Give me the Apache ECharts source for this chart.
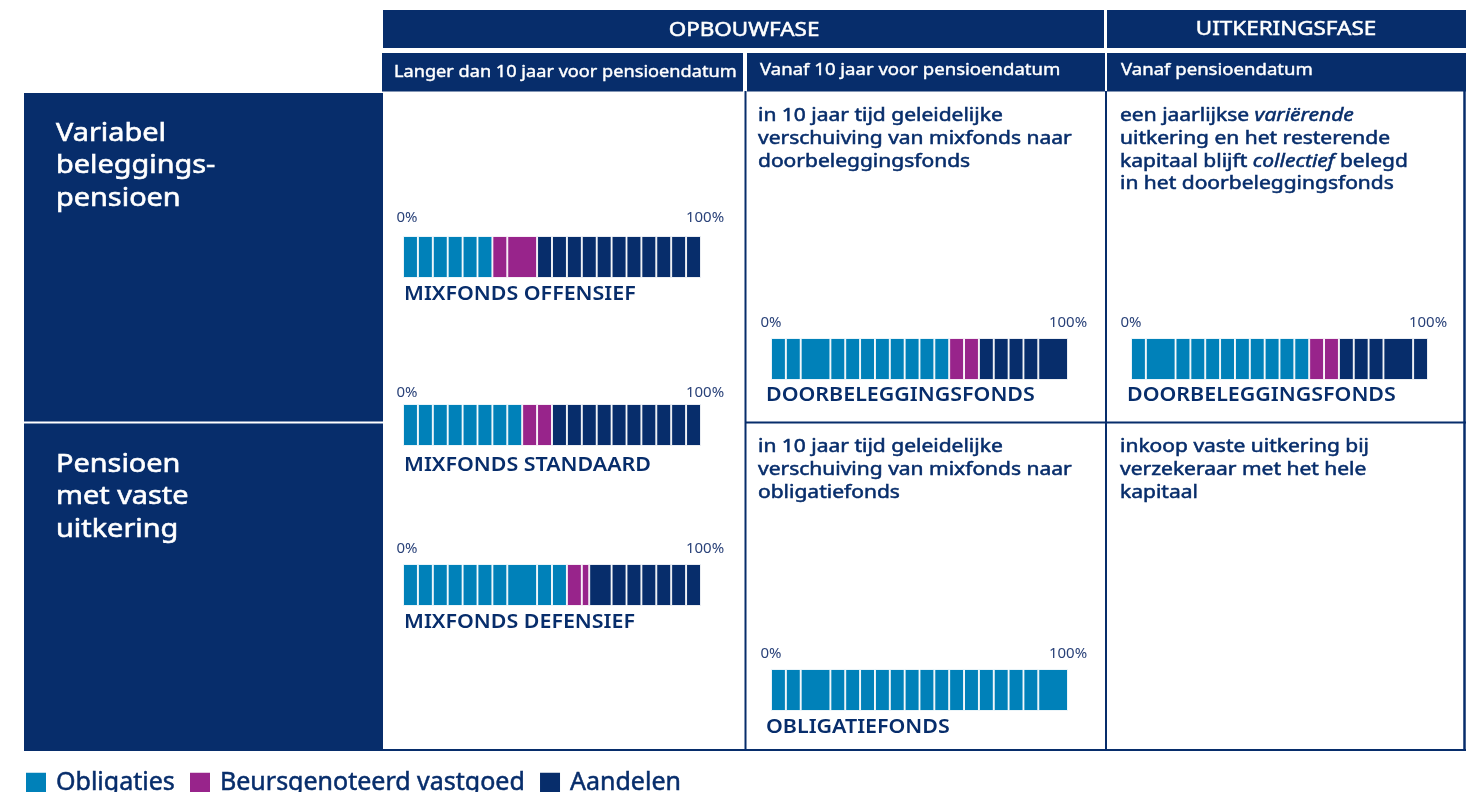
<!DOCTYPE html>
<html>
<head>
<meta charset="utf-8">
<script src="https://cdn.jsdelivr.net/npm/echarts@6/dist/echarts.min.js"></script>
<style>html,body{margin:0;padding:0;background:#fff}#c{width:1478px;height:792px}</style>
</head>
<body>
<div id="c"></div>
<script>
// ---- data ----
const categories = ['Obligaties', 'Beursgenoteerd vastgoed', 'Aandelen'];
const categoryColors = ['#0081b9', '#98248b', '#072d6b'];
const fundNames = ['MIXFONDS OFFENSIEF', 'MIXFONDS STANDAARD', 'MIXFONDS DEFENSIEF', 'DOORBELEGGINGSFONDS', 'DOORBELEGGINGSFONDS', 'OBLIGATIEFONDS'];
const tickLabels = ['0%', '100%'];
// block widths (%) per fund, per asset class (totals: obligaties/vastgoed/aandelen)
const segObligaties = [
  [5,5,5,5,5,5],                                   // 30
  [5,5,5,5,5,5,5,5],                               // 40
  [5,5,5,5,5,5,5,10,5,5],                          // 55
  [5,5,10,5,5,5,5,5,5,5,5],                        // 60
  [5,10,5,5,5,5,5,5,5,5,5],                        // 60
  [5,5,10,5,5,5,5,5,5,5,5,5,5,5,5,5,5,10]          // 100
];
const segVastgoed = [
  [5,10], [5,5], [5,2.5], [5,5], [5,5], []
];
const segAandelen = [
  [5,5,5,5,5,5,5,5,5,5,5],                         // 55
  [5,5,5,5,5,5,5,5,5,5],                           // 50
  [7.5,5,5,5,5,5,5],                               // 37.5
  [5,5,5,5,10],                                    // 30
  [5,5,5,10,5],                                    // 30
  []
];
const headerTop = ['OPBOUWFASE', 'UITKERINGSFASE'];
const headerSub = ['Langer dan 10 jaar voor pensioendatum', 'Vanaf 10 jaar voor pensioendatum', 'Vanaf pensioendatum'];
const rowLabels = ['Variabel\nbeleggings-\npensioen', 'Pensioen\nmet vaste\nuitkering'];
const cellTexts = [
  'in 10 jaar tijd geleidelijke\nverschuiving van mixfonds naar\ndoorbeleggingsfonds',
  'een jaarlijkse {i|variërende}\nuitkering en het resterende\nkapitaal blijft {i|collectief} belegd\nin het doorbeleggingsfonds',
  'in 10 jaar tijd geleidelijke\nverschuiving van mixfonds naar\nobligatiefonds',
  'inkoop vaste uitkering bij\nverzekeraar met het hele\nkapitaal'
];

// ---- layout ----
const NAVY = '#072d6b';
const FONT = '"Noto Sans", "Open Sans", sans-serif';
const grids = [
  {left: 403, top: 236, width: 298, height: 42, labelMargin: 11, shift: 8, nameX: 404, nameY: 294},
  {left: 403, top: 404, width: 298, height: 42, labelMargin: 4, shift: 8, nameX: 404, nameY: 465},
  {left: 403, top: 564, width: 298, height: 42, labelMargin: 8, shift: 8, nameX: 404, nameY: 622},
  {left: 771, top: 338, width: 297, height: 42, labelMargin: 8, shift: 0, nameX: 766, nameY: 395},
  {left: 1131, top: 338, width: 297, height: 42, labelMargin: 8, shift: 0, nameX: 1127, nameY: 395},
  {left: 771, top: 669, width: 297, height: 42, labelMargin: 8, shift: 0, nameX: 766, nameY: 727}
];

const chart = echarts.init(document.getElementById('c'), null, {renderer: 'canvas'});

const gridOpt = [], xAxes = [], yAxes = [], series = [];
grids.forEach((g, i) => {
  gridOpt.push({left: g.left, top: g.top, width: g.width, height: g.height, containLabel: false});
  xAxes.push({
    type: 'value', gridIndex: i, min: 0, max: 100, interval: 100, position: 'top',
    axisLine: {show: false}, axisTick: {show: false}, splitLine: {show: false},
    axisLabel: {
      margin: g.labelMargin, fontSize: 15, color: '#2a4279', fontFamily: FONT,
      padding: [0, 0, 0, g.shift],
      formatter: v => v === 0 ? tickLabels[0] : tickLabels[1]
    }
  });
  yAxes.push({
    type: 'category', gridIndex: i, data: [fundNames[i]],
    axisLine: {show: false}, axisTick: {show: false}, axisLabel: {show: false}
  });
  [segObligaties, segVastgoed, segAandelen].forEach((segs, c) => {
    segs[i].forEach(v => {
      series.push({
        type: 'bar', name: categories[c], xAxisIndex: i, yAxisIndex: i, stack: 'f' + i,
        data: [v], barWidth: '100%', silent: true,
        itemStyle: {color: categoryColors[c], borderColor: '#ffffff', borderWidth: 0.9},
        emphasis: {disabled: true}
      });
    });
  });
});

// table graphics
const gr = [];
function rect(x, y, w, h, fill) { gr.push({type: 'rect', shape: {x, y, width: w, height: h}, style: {fill}, silent: true}); }
function line(x1, y1, x2, y2, stroke, lw) { gr.push({type: 'line', shape: {x1, y1, x2, y2}, style: {stroke, lineWidth: lw}, silent: true}); }
function text(x, y, t, sx, opts) {
  gr.push({type: 'text', x, y, scaleX: sx, scaleY: 1, silent: true, style: Object.assign({text: t, fontFamily: FONT}, opts)});
}
// top header row
rect(383, 10, 721, 38, NAVY);
rect(1107, 10, 359, 38, NAVY);
const hdr = {fill: '#fff', stroke: '#fff', lineWidth: 0.5, fontSize: 19, align: 'center', verticalAlign: 'middle'};
text(744, 31, headerTop[0], 1.18, hdr);
text(1286, 30, headerTop[1], 1.18, hdr);
// sub header row
rect(382, 53, 361, 38.5, NAVY);
rect(747, 53, 358, 38.5, NAVY);
rect(1107, 53, 359, 38.5, NAVY);
const sub = {fill: '#fff', stroke: '#fff', lineWidth: 0.4, fontSize: 16, verticalAlign: 'middle'};
text(394, 72, headerSub[0], 1.135, sub);
text(760, 70, headerSub[1], 1.16, sub);
text(1121, 70, headerSub[2], 1.16, sub);
// left row headers
rect(24, 93, 359, 658, NAVY);
line(24, 422.5, 383, 422.5, '#ffffff', 2);
const rowStyle = {fill: '#fff', stroke: '#fff', lineWidth: 0.6, fontSize: 26, lineHeight: 32.5};
text(56, 117, rowLabels[0], 1.11, rowStyle);
text(56, 448, rowLabels[1], 1.11, rowStyle);
// cell borders
line(745.5, 91, 745.5, 751, NAVY, 2);
line(1106, 91, 1106, 751, NAVY, 2);
line(1464.5, 91, 1464.5, 751, NAVY, 2.5);
line(383, 750, 1466, 750, NAVY, 2);
line(745, 422.5, 1466, 422.5, NAVY, 2);
// cell texts
const cellStyle = {fill: NAVY, stroke: NAVY, lineWidth: 0.5, fontSize: 17.5, lineHeight: 22.7,
  rich: {i: {fontStyle: 'italic', fontSize: 17.5, fill: NAVY, stroke: NAVY, lineWidth: 0.5, fontFamily: FONT, lineHeight: 22.7}}};
text(758, 105, cellTexts[0], 1.2, cellStyle);
text(1120, 105, cellTexts[1], 1.2, cellStyle);
text(758, 436, cellTexts[2], 1.2, cellStyle);
text(1120, 436, cellTexts[3], 1.2, cellStyle);
// fund names under bars
grids.forEach((g, i) => {
  text(g.nameX, g.nameY, fundNames[i], 1.07, {fill: NAVY, fontSize: 20, fontWeight: 600, verticalAlign: 'middle'});
});

chart.setOption({
  animation: false,
  grid: gridOpt,
  xAxis: xAxes,
  yAxis: yAxes,
  series: series,
  legend: {
    data: categories, left: 24, top: 770, padding: 0, icon: 'rect', itemWidth: 22, itemHeight: 22, itemGap: 13,
    selectedMode: false,
    textStyle: {fontSize: 25, color: NAVY, fontFamily: FONT, textBorderColor: NAVY, textBorderWidth: 0.5, padding: [0, 0, 0, 4]}
  },
  graphic: gr
});
</script>
</body>
</html>
